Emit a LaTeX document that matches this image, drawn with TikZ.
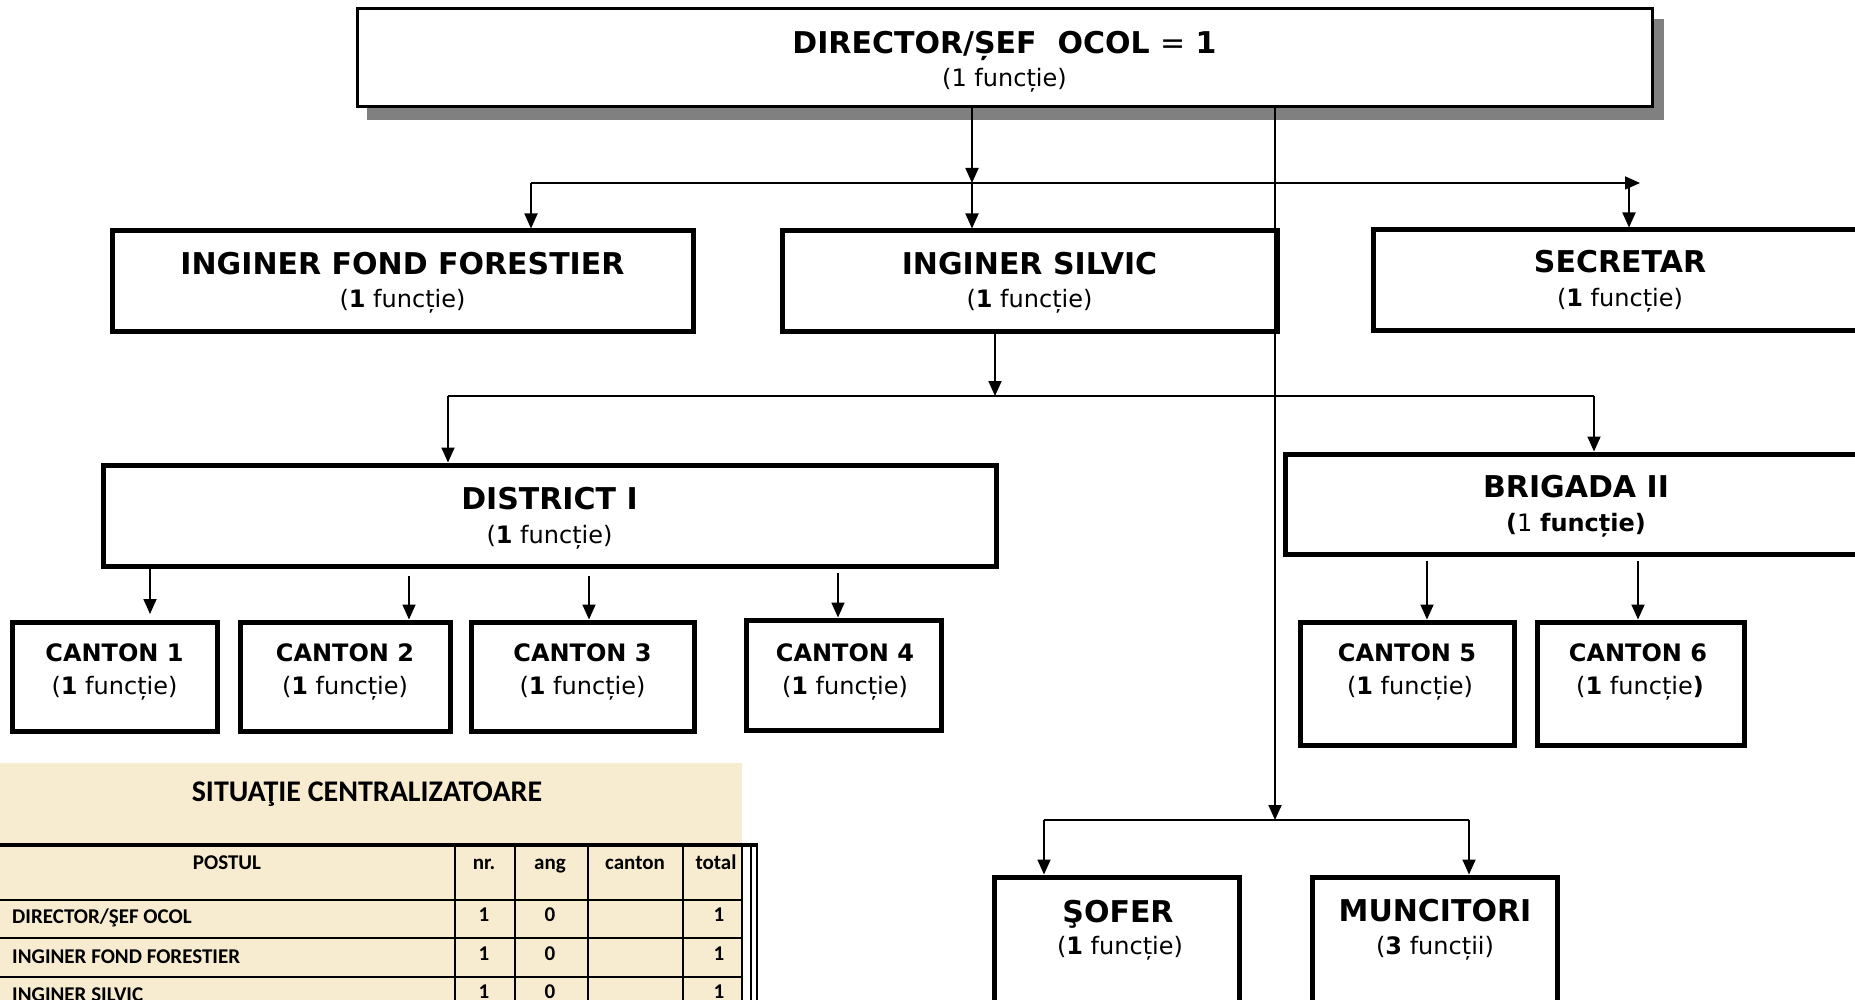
\documentclass[tikz,border=0pt]{standalone}
\usepackage{fontspec}
\setmainfont{DejaVu Sans}
\newfontfamily\calfont{Carlito}
\usetikzlibrary{arrows.meta}
\definecolor{beige}{RGB}{248,236,208}
\definecolor{shadowgray}{RGB}{128,128,128}
\begin{document}
\begin{tikzpicture}[x=1pt,y=-1pt,
  bx/.style={draw=black, line width=5pt, fill=white, inner sep=0pt},
  tl/.style={font=\fontsize{30}{36}\selectfont\bfseries, inner sep=0pt},
  tc/.style={font=\fontsize{24}{28}\selectfont\bfseries, inner sep=0pt},
  sl/.style={font=\fontsize{24}{28}\selectfont, inner sep=0pt, yshift=-2.5pt},
  arr/.style={line width=1.8pt, -{Triangle[length=15pt,width=13pt]}},
  ln/.style={line width=1.8pt},
  tb/.style={font=\calfont\bfseries\fontsize{21}{25}\selectfont, inner sep=0pt},
  tbl/.style={line width=2.5pt},
]
\useasboundingbox (0,0) rectangle (1855,1000);

% ---------- table background ----------
\fill[beige] (0,763) rectangle (742,1000);

% ---------- director ----------
\fill[shadowgray] (367,19) rectangle (1664,120);
\node[bx, line width=3pt, minimum width=1295pt, minimum height=98pt] (dir) at (1004.5,58) {};
\node[tl, anchor=base] (dirt) at (1004.5,54) {DIRECTOR/ȘEF\ \ OCOL {\mdseries =} 1};
\node[sl] (dirs) at (1004.5,78) {(1 funcție)};

% ---------- level 2 ----------
\node[bx, minimum width=581pt, minimum height=100pt] (iff) at (402.5,281) {};
\node[tl] (ifft) at (402.5,264) {INGINER FOND FORESTIER};
\node[sl] (iffs) at (402.5,299) {(\textbf{1} funcție)};

\node[bx, minimum width=495pt, minimum height=100pt] (is) at (1029.5,281) {};
\node[tl] (ist) at (1029.5,264) {INGINER SILVIC};
\node[sl] (iss) at (1029.5,299) {(\textbf{1} funcție)};

\node[bx, minimum width=494pt, minimum height=100pt] (sec) at (1620,280) {};
\node[tl] (sect) at (1620,261.5) {SECRETAR};
\node[sl] (secs) at (1620,298) {(\textbf{1} funcție)};

% ---------- level 3 ----------
\node[bx, minimum width=893pt, minimum height=101pt] (dist) at (549.5,515.5) {};
\node[tl] (distt) at (549.5,499) {DISTRICT I};
\node[sl] (dists) at (549.5,535) {(\textbf{1} funcție)};

\node[bx, minimum width=582pt, minimum height=100pt] (brig) at (1576,504) {};
\node[tl] (brigt) at (1576,487) {BRIGADA II};
\node[sl] (brigs) at (1576,523) {\textbf{(}1 \textbf{funcție)}};

% ---------- cantons ----------
\node[bx, minimum width=205pt, minimum height=109pt] (c1) at (114.5,676.5) {};
\node[tc] (c1t) at (114.5,653) {CANTON 1};
\node[sl] (c1s) at (114.5,686) {(\textbf{1} funcție)};

\node[bx, minimum width=210pt, minimum height=109pt] (c2) at (345,676.5) {};
\node[tc] (c2t) at (345,653) {CANTON 2};
\node[sl] (c2s) at (345,686) {(\textbf{1} funcție)};

\node[bx, minimum width=223pt, minimum height=109pt] (c3) at (582.5,676.5) {};
\node[tc] (c3t) at (582.5,653) {CANTON 3};
\node[sl] (c3s) at (582.5,686) {(\textbf{1} funcție)};

\node[bx, minimum width=195pt, minimum height=110pt] (c4) at (843.5,675) {};
\node[tc] (c4t) at (845,653) {CANTON 4};
\node[sl] (c4s) at (845,686) {(\textbf{1} funcție)};

\node[bx, minimum width=214pt, minimum height=123pt] (c5) at (1407,683.5) {};
\node[tc] (c5t) at (1407,653) {CANTON 5};
\node[sl] (c5s) at (1410,686) {(\textbf{1} funcție)};

\node[bx, minimum width=207pt, minimum height=123pt] (c6) at (1640.5,683.5) {};
\node[tc] (c6t) at (1638,653) {CANTON 6};
\node[sl] (c6s) at (1640,686) {(\textbf{1} funcție\textbf{)}};

% ---------- bottom ----------
\node[bx, minimum width=245pt, minimum height=143pt] (sof) at (1116.5,948.5) {};
\node[tl, anchor=base] (soft) at (1118,922) {ŞOFER};
\node[sl] (sofs) at (1120,946) {(\textbf{1} funcție)};

\node[bx, minimum width=245pt, minimum height=143pt] (mun) at (1434.5,948.5) {};
\node[tl] (munt) at (1435,911) {MUNCITORI};
\node[sl] (muns) at (1435,946) {(\textbf{3} funcții)};

% ---------- connectors ----------
\coordinate (j1) at (972,183);
\coordinate (j1l) at (531,183);
\coordinate (j1r) at (1640,183);
\coordinate (s1) at (1629,186);
\draw[arr] (dir.south -| j1) -- (j1);
\draw[arr] (j1l) -- (j1r);
\draw[arr] (j1l) -- (j1l |- iff.north);
\draw[arr] (j1) -- (j1 |- is.north);
\draw[arr] (s1) -- (s1 |- sec.north);

\coordinate (j2) at (995,396);
\coordinate (j2l) at (448,396);
\coordinate (j2r) at (1594,396);
\draw[arr] (is.south -| j2) -- (j2);
\draw[ln] (j2l) -- (j2r);
\draw[arr] (j2l) -- (j2l |- dist.north);
\draw[arr] (j2r) -- (j2r |- brig.north);

\coordinate (j3) at (1275,820);
\coordinate (j3l) at (1044,820);
\coordinate (j3r) at (1469,820);
\draw[arr] (dir.south -| j3) -- (j3);
\draw[ln] (j3l) -- (j3r);
\draw[arr] (j3l) -- (j3l |- sof.north);
\draw[arr] (j3r) -- (j3r |- mun.north);

\coordinate (d1) at (150,568);
\coordinate (d1e) at (150,614);
\coordinate (d2) at (409,576);
\coordinate (d3) at (589,576);
\coordinate (d4) at (838,573);
\draw[arr] (d1) -- (d1e);
\draw[arr] (d2) -- (d2 |- c2.north);
\draw[arr] (d3) -- (d3 |- c3.north);
\draw[arr] (d4) -- (d4 |- c4.north);

\coordinate (b1) at (1427,561);
\coordinate (b2) at (1638,561);
\draw[arr] (b1) -- (b1 |- c5.north);
\draw[arr] (b2) -- (b2 |- c6.north);

% ---------- table ----------
\node[font=\calfont\bfseries\fontsize{30}{36}\selectfont, inner sep=0pt] (sit) at (367,794) {SITUAŢIE CENTRALIZATOARE};
\draw[line width=4pt] (0,845) -- (758,845);
\foreach \yy in {900,938,977} \draw[tbl] (0,\yy) -- (742,\yy);
\foreach \xx in {455,515,588,683,742} \draw[tbl] (\xx,845) -- (\xx,1000);
\draw[line width=2pt] (751,845) -- (751,1000);
\draw[line width=2pt] (757,845) -- (757,1000);

\node[tb, anchor=base] (hp) at (227,869) {POSTUL};
\node[tb, anchor=base] (hn) at (484,869) {nr.};
\node[tb, anchor=base] (ha) at (550,869) {ang};
\node[tb, anchor=base] (hc) at (635,869) {canton};
\node[tb, anchor=base] (ht) at (716,869) {total};

\node[tb, anchor=west] (r1) at (12,918) {DIRECTOR/ŞEF OCOL};
\node[tb, anchor=west] (r2) at (12,957) {INGINER FOND FORESTIER};
\node[tb, anchor=west] (r3) at (12,995) {INGINER SILVIC};
\foreach \yy/\nm in {915/a,954/b,992/c} {
  \node[tb] (n\nm) at (484,\yy) {1};
  \node[tb] (g\nm) at (550,\yy) {0};
  \node[tb] (t\nm) at (719,\yy) {1};
}
\end{tikzpicture}
\end{document}
